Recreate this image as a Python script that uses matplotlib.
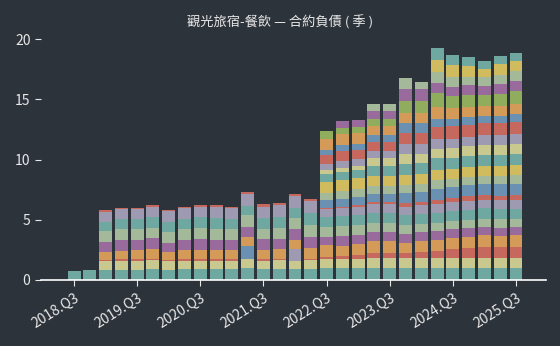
import matplotlib
matplotlib.use("Agg")
import matplotlib.pyplot as plt
import numpy as np

plt.rcParams["font.family"] = ["Noto Sans CJK TC", "DejaVu Sans"]

# quarters 2018.Q3 .. 2025.Q3
quarters = [f"{y}.Q{q}" for y in range(2018, 2026) for q in range(1, 5)][2:31]

z16 = [0] * 16
# companies, bottom to top (values in 億)
c00 = [0.75, 0.8, 0.83, 0.85, 0.85, 0.9, 0.85, 0.9, 0.9, 0.9, 0.9, 0.96, 0.9, 0.9, 0.9, 0.9,
       0.95, 0.95, 0.95, 0.95, 0.95, 0.95, 0.95, 0.95, 0.95, 0.95, 0.95, 0.95, 0.96]
c01 = [0, 0, 0.75, 0.75, 0.75, 0.75, 0.7, 0.7, 0.7, 0.7, 0.7, 0.77, 0.7, 0.75, 0.7, 0.75,
       0.8, 0.8, 0.8, 0.9, 0.9, 0.85, 0.85, 0.85, 0.9, 0.9, 0.9, 0.9, 0.9]
c02 = [0, 0, 0.1, 0.1, 0.1, 0.1, 0.1, 0.1, 0.1, 0.1, 0.1, 0, 0.1, 0.1, 0, 0.1,
       0.15, 0.2, 0.3, 0.4, 0.4, 0.4, 0.5, 0.6, 0.7, 0.8, 0.9, 0.85, 0.88]
c03 = [0, 0, 0, 0, 0, 0, 0, 0, 0, 0, 0, 1.07, 0, 0, 0, 0,
       0, 0, 0, 0, 0, 0, 0, 0, 0, 0, 0, 0, 0]
c04 = [0, 0, 0, 0, 0, 0, 0, 0, 0, 0, 0, 0, 0, 0, 1.0, 0,
       0, 0, 0, 0, 0, 0, 0, 0, 0, 0, 0, 0, 0]
c05 = [0, 0, 0.6, 0.7, 0.75, 0.8, 0.7, 0.75, 0.8, 0.8, 0.75, 0.77, 0.8, 0.8, 0.7, 0.9,
       1.0, 0.9, 0.9, 0.95, 0.95, 0.9, 0.9, 0.9, 0.95, 0.95, 0.95, 0.95, 0.96]
c06 = [0, 0, 0.9, 0.95, 0.9, 0.9, 0.75, 0.9, 0.9, 0.85, 0.9, 0.83, 0.9, 0.85, 0.9, 0.95,
       0.7, 0.8, 0.8, 0.8, 0.8, 0.75, 0.75, 0.75, 0.7, 0.7, 0.7, 0.7, 0.7]
c07 = [0, 0, 0.85, 0.9, 0.9, 0.9, 0.9, 0.9, 0.9, 0.9, 0.9, 0.96, 0.85, 0.95, 0.95, 0.95,
       0.8, 0.8, 0.8, 0.75, 0.75, 0.7, 0.7, 0.7, 0.7, 0.7, 0.7, 0.7, 0.7]
c08 = [0, 0, 0.75, 0.8, 0.8, 0.85, 0.85, 0.85, 0.9, 0.9, 0.85, 0.77, 0.9, 0.85, 0.8, 1.0,
       0.8, 0.85, 0.85, 0.85, 0.85, 0.85, 0.85, 0.85, 0.85, 0.85, 0.85, 0.85, 0.83]
c09 = [0, 0, 0.85, 0.85, 0.85, 0.9, 0.9, 0.85, 0.9, 0.9, 0.85, 1.0, 0.95, 1.0, 1.0, 1.0,
       0.7, 0.7, 0.7, 0.7, 0.7, 0.7, 0.7, 0.7, 0.7, 0.7, 0.7, 0.7, 0.7]
c10 = [0, 0, 0.15, 0.1, 0.1, 0.1, 0.1, 0.1, 0.1, 0.15, 0.15, 0.17, 0.2, 0.2, 0.2, 0.15,
       0.1, 0.1, 0.15, 0.2, 0.2, 0.3, 0.3, 0.35, 0.35, 0.4, 0.4, 0.4, 0.4]
n01 = z16 + [0.6, 0.6, 0.6, 0.6, 0.6, 0.8, 0.8, 0.9, 0.9, 0.9, 0.9, 0.95, 0.96]
n02 = z16 + [0.6, 0.7, 0.7, 0.7, 0.7, 0.7, 0.7, 0.75, 0.7, 0.7, 0.7, 0.7, 0.7]
n03 = z16 + [0.9, 0.9, 0.9, 0.8, 0.8, 0.8, 0.8, 0.85, 0.8, 0.8, 0.8, 0.8, 0.83]
n04 = z16 + [0.7, 0.7, 0.7, 0.9, 0.9, 0.9, 0.9, 0.95, 0.95, 0.95, 0.95, 0.95, 0.96]
n05 = z16 + [0.3, 0.3, 0.3, 0.6, 0.6, 0.9, 0.8, 0.8, 0.8, 0.8, 0.8, 0.8, 0.83]
n06 = z16 + [0.5, 0.6, 0.6, 0.6, 0.6, 0.8, 0.8, 0.8, 0.8, 0.8, 0.8, 0.8, 0.83]
n07 = z16 + [0.8, 0.8, 0.75, 0.8, 0.8, 0.9, 0.9, 1.0, 1.0, 1.0, 1.0, 1.0, 1.0]
n08 = z16 + [0.4, 0.5, 0.5, 0.5, 0.5, 0.8, 0.8, 0.7, 0.6, 0.6, 0.6, 0.6, 0.63]
n09 = z16 + [0.9, 0.9, 0.9, 0.8, 0.8, 0.9, 0.9, 1.0, 0.9, 0.9, 0.85, 0.85, 0.83]
n10 = z16 + [0.7, 0.5, 0.5, 0.6, 0.6, 1.0, 1.0, 1.1, 1.0, 1.0, 0.9, 1.0, 1.1]
n11 = z16 + [0, 0.6, 0.6, 0.6, 0.6, 1.0, 1.0, 0.9, 0.8, 0.8, 0.8, 0.8, 0.83]
n12 = z16 + [0, 0, 0, 0.6, 0.6, 0.9, 0.55, 0.9, 0.8, 0.7, 0.7, 0.8, 0.83]
n13 = z16 + [0, 0, 0, 0, 0, 0, 0, 1.0, 1.0, 0.9, 0.7, 0.85, 0.83]
n14 = z16 + [0, 0, 0, 0, 0, 0, 0, 0.95, 0.85, 0.7, 0.65, 0.7, 0.7]

series = [c00, c01, c02, c03, c04, c05, c06, c07, c08, c09, c10,
          n01, n02, n03, n04, n05, n06, n07, n08, n09, n10, n11, n12, n13, n14]

teal, pyel, red, orange, purple = "#6fa8a1", "#c9c98f", "#c7685f", "#d49a58", "#996a9c"
sage, lav, blue, green, mustard = "#a3b999", "#9d9ab2", "#6b91b2", "#8fad5d", "#d0bc5e"
colors = [teal, pyel, red, blue, lav, orange, purple, sage, teal, lav, red,
          blue, sage, mustard, teal, pyel, lav, red, blue, orange, green, purple, sage, mustard, teal]

bg = "#2d333b"
fig = plt.figure(figsize=(5.6, 3.46), dpi=100, facecolor=bg)
ax = fig.add_axes([0.073, 0.191, 0.902, 0.72], facecolor=bg)

x = np.arange(len(quarters))
bottom = np.zeros(len(quarters))
for vals, col in zip(series, colors):
    vals = np.array(vals, dtype=float)
    ax.bar(x, vals, bottom=bottom, width=0.82, color=col, linewidth=0)
    bottom += vals

ax.set_xlim(-2.1, 29.9)
ax.set_ylim(0, 20.7)
ax.set_yticks([0, 5, 10, 15, 20])
ax.set_xticks(x[::4])
ax.set_xticklabels(quarters[::4], rotation=32, ha="right", rotation_mode="anchor")

for s in ["left", "top", "right"]:
    ax.spines[s].set_visible(False)
ax.spines["bottom"].set_color("white")
ax.spines["bottom"].set_linewidth(1.2)
ax.tick_params(axis="both", colors="#e8e8e8", labelsize=10, length=4)
ax.tick_params(axis="x", pad=4)

fig.suptitle("觀光旅宿-餐飲 — 合約負債 ( 季 )", color="#e8e8e8", fontsize=9.5, y=0.955)

fig.savefig("out.png", dpi=100, facecolor=bg)
